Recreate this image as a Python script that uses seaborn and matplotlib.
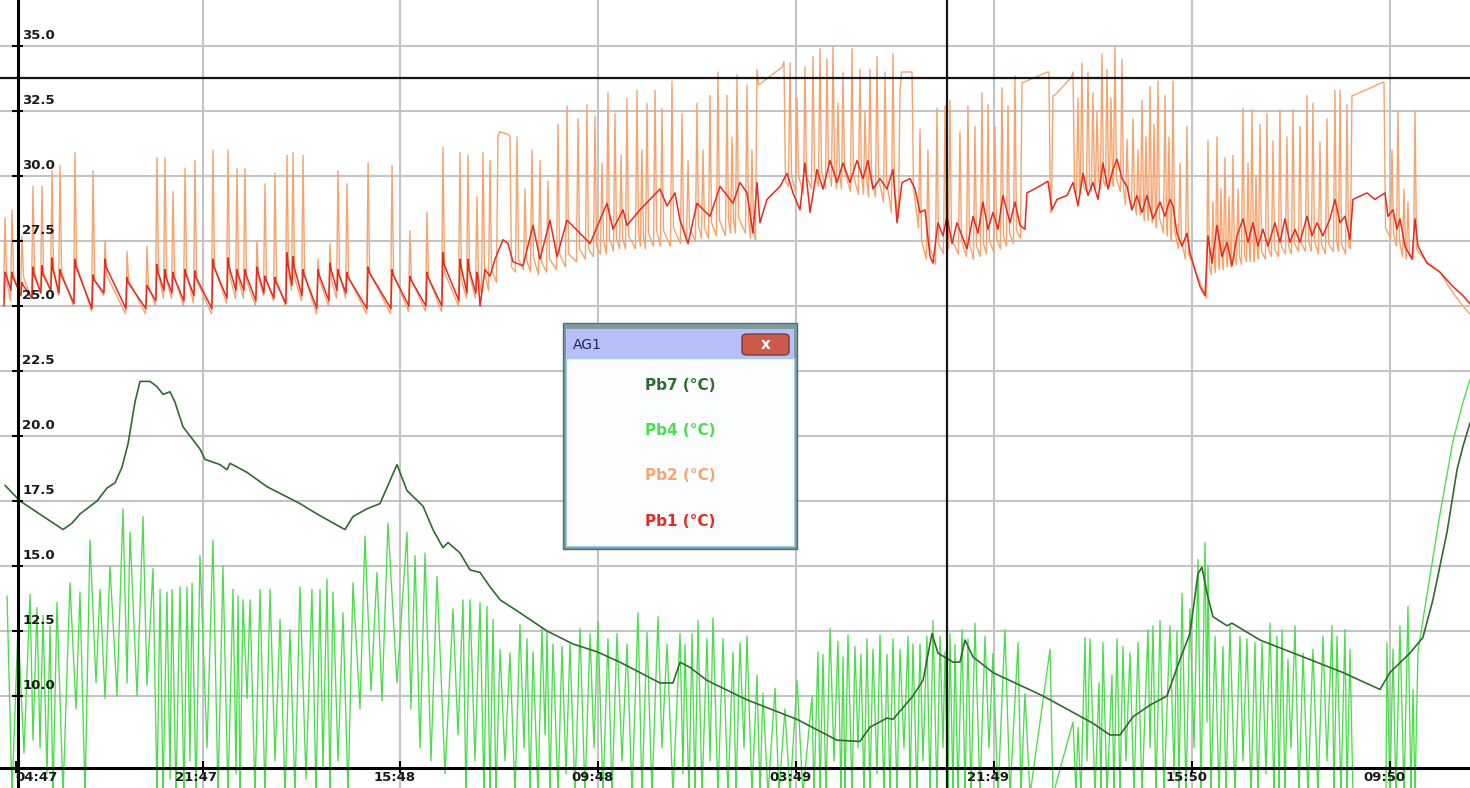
import matplotlib
matplotlib.use("Agg")
import matplotlib.pyplot as plt
import seaborn as sns
from matplotlib.patches import Rectangle, FancyBboxPatch

# ---------------- data (time in hours since 04:47, temperature in degC) ----------------
tick_hours = [0, 17, 35, 53, 71, 89, 107, 125]
tick_labels = ["04:47", "21:47", "15:48", "09:48", "03:49", "21:49", "15:50", "09:50"]
y_ticks = [10.0, 12.5, 15.0, 17.5, 20.0, 22.5, 25.0, 27.5, 30.0, 32.5, 35.0]

series_names = ["Pb7 (°C)", "Pb4 (°C)", "Pb2 (°C)", "Pb1 (°C)"]
series_colors = ["#2f6b2f", "#4cdc4c", "#f5a470", "#e52b20"]
legend_title = "AG1"

cursor_hour = 84.68
cursor_value = 33.77

# Pb7 (dark green) vertices
pb7_t = [-0.95, 0.41, 4.32, 5.14, 5.86, 7.41, 8.32, 9.05, 9.68, 10.23,
         10.86, 11.32, 12.23, 12.86, 13.41, 14.05, 14.5, 15.23, 16.77, 17.23,
         18.59, 19.23, 19.5, 21.05, 22.86, 25.86, 27.41, 29.95, 30.68, 31.95,
         33.14, 34.68, 35.59, 37.05, 37.95, 38.86, 39.32, 40.41, 41.32, 42.23,
         43.14, 44.05, 45.86, 48.32, 50.68, 52.86, 54.95, 58.59, 59.77, 60.41,
         61.32, 62.86, 66.5, 71.05, 74.68, 76.77, 77.68, 79.23, 79.77, 81.59,
         82.5, 83.32, 83.86, 85.23, 85.86, 86.32, 87.05, 88.86, 93.41, 97.95,
         99.5, 100.41, 101.59, 103.14, 104.68, 105.86, 106.77, 107.5, 107.86, 108.32,
         108.86, 110.14, 110.59, 113.14, 117.68, 120.68, 124.05, 124.95, 126.77, 127.95,
         128.86, 130.14, 131.05, 131.59, 132.23]
pb7_v = [18.1, 17.5, 16.4, 16.65, 17.0, 17.5, 18.0, 18.2, 18.8, 19.7,
         21.3, 22.1, 22.1, 21.9, 21.6, 21.7, 21.3, 20.35, 19.5, 19.1,
         18.9, 18.7, 18.95, 18.6, 18.05, 17.4, 17.0, 16.4, 16.9, 17.2,
         17.4, 18.9, 17.9, 17.3, 16.4, 15.7, 15.9, 15.5, 14.85, 14.75,
         14.2, 13.7, 13.2, 12.5, 12.0, 11.7, 11.3, 10.5, 10.5, 11.3,
         11.1, 10.6, 9.85, 9.1, 8.3, 8.25, 8.8, 9.15, 9.1, 10.0,
         10.6, 12.4, 11.65, 11.3, 11.3, 12.15, 11.5, 10.9, 10.0, 8.95,
         8.5, 8.5, 9.2, 9.65, 10.0, 11.4, 12.4, 14.7, 14.95, 13.95,
         13.05, 12.7, 12.8, 12.15, 11.4, 10.9, 10.25, 10.9, 11.65, 12.25,
         13.7, 16.3, 18.7, 19.6, 20.5]

# Pb4 (bright green) alternating peaks / troughs
pb4_t_a = [-0.77, -0.32, 0.23, 0.77, 1.32, 1.59, 1.95, 2.23, 2.5, 2.86,
           3.14, 3.41, 3.77, 4.32, 4.95, 5.5, 5.86, 6.32, 6.77, 7.32,
           7.68, 8.14, 8.59, 9.23, 9.77, 10.14, 10.41, 11.05, 11.59, 11.95,
           12.5, 12.86, 13.14, 13.41, 13.77, 14.05, 14.23, 14.59, 14.95, 15.32,
           15.59, 15.86, 16.05, 16.41, 16.77, 17.41, 17.95, 18.41, 18.86, 19.32,
           19.77, 20.05, 20.23, 20.41, 20.68, 21.05, 21.32, 21.77, 22.23, 22.68,
           23.14, 23.59, 24.05, 24.5, 24.95, 25.41, 25.86, 26.41, 26.95, 27.32,
           27.68, 27.95, 28.32, 28.59, 28.86, 29.32, 29.77, 30.23, 30.68, 31.32,
           31.77, 32.32, 32.86, 33.32, 33.86, 34.68, 35.59, 35.95, 36.32, 36.77,
           37.23, 37.77, 38.32, 39.05, 39.77, 40.23, 40.68, 40.95, 41.32, 41.77,
           42.23, 42.59, 42.86, 43.14]
pb4_v_a = [13.85, 6.2, 12.7, 7.8, 13.9, 8.3, 13.4, 8.0, 13.1, 7.0,
           12.7, 6.2, 13.6, 6.2, 14.35, 9.5, 14.0, 6.2, 16.0, 10.5,
           14.1, 9.9, 15.0, 10.0, 17.2, 10.5, 16.3, 10.0, 16.9, 10.4,
           14.9, 6.2, 14.1, 6.2, 14.0, 6.8, 14.1, 6.2, 14.2, 6.2,
           14.2, 7.5, 14.35, 6.2, 15.4, 8.0, 16.0, 6.2, 15.0, 6.2,
           14.1, 7.0, 13.85, 6.2, 13.7, 9.9, 13.7, 6.2, 14.1, 6.2,
           14.1, 7.5, 12.95, 6.2, 12.55, 6.2, 14.2, 6.8, 14.1, 6.2,
           14.1, 7.2, 14.5, 6.2, 14.0, 7.5, 13.2, 6.2, 14.35, 9.5,
           16.15, 10.2, 14.75, 9.8, 16.65, 10.5, 16.3, 9.5, 15.4, 8.0,
           15.5, 7.5, 14.6, 7.0, 13.35, 8.5, 13.7, 6.2, 13.7, 7.5,
           13.6, 6.2, 13.45, 6.2]
pb4_t_b = [43.41, 43.68, 44.05, 44.5, 44.95, 45.41, 45.86, 46.23, 46.5, 46.77,
           47.05, 47.5, 47.86, 48.14, 48.32, 48.59, 48.86, 49.32, 49.68, 50.05,
           50.41, 50.86, 51.32, 51.77, 52.23, 52.59, 52.95, 53.41, 53.86, 54.23,
           54.68, 55.14, 55.59, 56.05, 56.59, 56.95, 57.41, 57.86, 58.41, 58.77,
           59.23, 59.77, 60.41, 60.68, 60.86, 61.23, 61.5, 61.77, 62.05, 62.41,
           62.86, 63.14, 63.41, 63.86, 64.32, 64.77, 65.23, 65.5, 65.86, 66.23,
           66.5, 66.95, 67.41, 67.68, 67.95, 68.41, 69.05, 69.41, 69.95, 70.41,
           71.05, 71.59, 72.41, 72.59, 72.95, 73.14, 73.41, 73.68, 74.05, 74.41,
           74.77, 75.05, 75.23, 75.41, 75.68, 76.05, 76.32, 76.59, 76.86, 77.14,
           77.41, 77.68, 77.95, 78.32, 78.59, 78.95, 79.23, 79.5, 79.77, 80.14,
           80.41, 80.77, 81.14, 81.32, 81.59, 81.95, 82.23, 82.5, 82.86, 83.14,
           83.41, 83.77, 84.05, 84.32, 84.5, 84.77, 84.95, 85.23, 85.41, 85.68,
           86.05]
pb4_v_b = [12.95, 6.2, 11.8, 7.5, 11.65, 6.2, 12.75, 8.0, 12.2, 6.2,
           11.7, 6.2, 12.6, 8.5, 12.5, 6.2, 12.0, 6.2, 11.9, 7.0,
           12.0, 6.2, 12.6, 6.2, 12.4, 8.0, 12.85, 6.2, 12.2, 6.2,
           12.4, 7.5, 12.0, 6.2, 13.2, 6.2, 12.45, 6.2, 13.05, 8.0,
           12.0, 6.2, 12.4, 7.0, 12.0, 6.2, 12.4, 6.2, 12.9, 6.2,
           12.2, 7.5, 13.0, 6.2, 12.2, 6.2, 11.7, 6.2, 12.05, 8.0,
           12.3, 6.2, 10.8, 6.2, 10.1, 6.2, 10.3, 6.2, 9.5, 6.2,
           10.6, 6.2, 10.0, 6.2, 11.7, 6.2, 11.6, 6.2, 12.6, 7.5,
           12.1, 6.2, 11.5, 6.2, 12.35, 6.2, 11.9, 8.0, 11.6, 6.2,
           12.2, 6.2, 11.8, 7.0, 12.35, 6.2, 11.6, 6.2, 12.2, 6.2,
           11.8, 8.0, 12.3, 6.2, 12.0, 6.2, 12.0, 7.5, 12.3, 6.2,
           12.9, 6.2, 12.3, 8.0, 11.7, 6.2, 12.4, 6.2, 12.0, 6.2,
           12.55]
pb4_t_c = [86.32, 86.59, 86.86, 87.23, 87.68, 88.14, 88.5, 88.86, 89.32, 89.95,
           90.41, 91.14, 91.41, 91.77, 92.23, 94.05, 94.32, 96.14, 96.41, 96.59,
           96.86, 97.23, 97.41, 97.68, 98.14, 98.5, 98.68, 98.86, 99.23, 99.68,
           99.86, 100.14, 100.41, 100.68, 100.95, 101.32, 101.68, 102.05, 102.41, 102.95,
           103.14, 103.41, 103.68, 104.05, 104.41, 104.95, 105.32, 105.59, 105.77, 106.05,
           106.41, 106.77, 107.14, 107.5, 107.77, 108.14, 108.32, 108.41, 108.68, 109.05,
           109.41, 109.77, 110.05, 110.41, 110.86, 111.32, 111.59, 111.95, 112.32, 112.68,
           112.95, 113.32, 113.68, 114.05, 114.41, 114.68, 114.86, 115.14, 115.41, 115.68,
           115.95, 116.32, 116.68, 117.05, 117.5, 117.95, 118.41, 118.86, 119.23, 119.68,
           119.86, 120.14, 120.5, 120.86, 121.05, 121.32, 121.59, 124.59, 124.68, 124.95,
           125.23, 125.5, 125.86, 126.23, 126.59, 126.86, 127.05, 127.23, 127.5, 128.32,
           129.5, 130.68, 131.59, 132.41]
pb4_v_c = [6.2, 12.2, 6.2, 12.8, 6.2, 12.3, 8.0, 11.65, 6.2, 12.55,
           6.2, 12.05, 6.2, 10.1, 6.2, 11.8, 6.2, 9.0, 6.2, 8.8,
           6.2, 12.25, 7.5, 12.2, 6.2, 10.5, 6.2, 12.05, 6.2, 10.8,
           6.2, 12.2, 6.2, 11.9, 7.5, 11.65, 6.2, 12.05, 6.2, 12.55,
           8.0, 12.7, 6.2, 12.9, 6.2, 12.7, 7.0, 12.5, 6.2, 13.95,
           6.2, 13.35, 8.0, 15.25, 6.2, 15.9, 9.0, 15.0, 6.2, 12.3,
           6.2, 11.9, 6.2, 12.7, 6.2, 12.3, 7.5, 12.2, 6.2, 12.05,
           6.2, 12.05, 7.0, 12.8, 6.2, 12.3, 6.2, 12.55, 6.2, 11.4,
           8.0, 12.7, 6.2, 11.65, 6.2, 11.8, 6.2, 12.3, 7.5, 12.7,
           6.2, 12.3, 6.2, 12.55, 6.2, 11.8, 6.2, 6.2, 12.05, 6.2,
           11.8, 6.2, 12.7, 6.2, 13.45, 6.2, 10.25, 6.2, 11.7, 13.9,
           17.0, 19.8, 21.3, 22.4]

# Pb2 (orange) spikes: time of peak, value before rise, peak value, value after drop
pb2_t_a = [-0.95, -0.32, 0.59, 1.59, 2.41, 3.32, 4.05, 5.41, 7.05, 8.14,
           10.14, 11.95, 12.86, 13.59, 14.32, 15.41, 16.32, 17.95, 19.32, 20.14,
           20.86, 21.95, 22.68, 23.59, 24.68, 25.23, 26.14, 27.5, 28.59, 29.32,
           30.14, 32.05, 34.23, 35.86, 37.41, 38.86, 40.41, 41.14, 41.95, 42.5,
           43.14]
pb2_base_a = [25.3, 25.2, 25.4, 25.3, 25.5, 25.6, 25.4, 25.0, 24.8, 25.4,
              24.7, 24.7, 25.0, 25.3, 25.3, 25.0, 25.1, 24.7, 25.1, 25.3,
              25.3, 25.0, 25.4, 25.2, 25.0, 25.6, 25.2, 24.7, 25.0, 25.3,
              25.3, 24.7, 24.7, 24.8, 24.8, 24.8, 25.0, 25.3, 25.3, 25.5,
              25.6]
pb2_peak_a = [28.4, 28.7, 27.7, 29.6, 29.6, 30.2, 30.4, 30.9, 30.2, 27.5,
              27.1, 27.3, 30.7, 30.7, 29.4, 30.3, 30.6, 31.0, 31.0, 30.3,
              30.3, 27.5, 29.7, 30.1, 30.8, 30.9, 30.8, 26.8, 27.4, 30.2,
              29.7, 30.5, 30.4, 27.9, 28.6, 31.1, 30.9, 30.8, 29.2, 30.9,
              30.6]
pb2_after_a = [26.0, 26.2, 26.1, 26.3, 26.3, 26.4, 26.3, 26.6, 26.0, 26.2,
               26.0, 25.8, 26.2, 26.0, 26.1, 26.3, 26.0, 26.5, 26.2, 26.0,
               26.0, 26.1, 26.0, 26.0, 26.3, 26.1, 26.2, 26.0, 26.0, 26.2,
               26.1, 26.3, 26.2, 26.0, 26.1, 26.3, 26.0, 26.2, 26.1, 26.3,
               26.4]
pb2_t_b = [43.86, 44.95, 45.59, 46.32, 46.95, 47.68, 48.41, 49.32, 50.14, 51.14,
           51.95, 52.68, 53.32, 53.86, 54.5, 55.05, 55.59, 56.5, 56.95, 57.41,
           58.14, 58.77, 59.68, 60.59, 61.14, 61.95, 62.5, 63.14, 63.86, 64.68,
           65.14, 65.59, 66.5, 66.95, 67.41, 69.86, 70.41, 71.05, 71.77, 72.5,
           73.14, 73.77, 74.32, 74.77, 75.23, 76.05, 76.77, 77.23, 77.68, 78.32,
           79.05, 79.77, 80.41, 81.5, 82.23, 82.95, 83.77, 84.5, 84.95, 85.86]
pb2_base_b = [25.9, 31.6, 26.3, 26.4, 26.3, 26.2, 26.3, 26.4, 26.5, 26.7,
              26.8, 26.9, 27.0, 27.0, 27.1, 27.2, 27.2, 27.2, 27.3, 27.2,
              27.3, 27.3, 27.3, 27.4, 27.5, 27.5, 27.6, 27.6, 27.7, 27.7,
              27.8, 27.8, 27.8, 27.6, 27.5, 34.2, 29.6, 29.4, 29.3, 29.5,
              29.6, 29.5, 29.6, 29.5, 29.5, 29.4, 29.3, 29.3, 29.2, 29.2,
              29.0, 28.6, 28.4, 34.0, 28.0, 26.8, 26.6, 27.0, 27.2, 27.0]
pb2_peak_b = [31.5, 31.5, 31.5, 29.5, 31.0, 30.6, 29.8, 32.0, 32.7, 32.2,
              32.75, 32.3, 30.5, 33.2, 32.4, 30.8, 33.0, 33.3, 31.0, 32.8,
              33.3, 32.6, 33.65, 32.4, 30.6, 32.8, 31.0, 33.1, 34.0, 33.1,
              31.5, 33.9, 33.5, 31.0, 34.1, 34.4, 34.35, 33.0, 34.2, 34.6,
              34.9, 34.5, 35.0, 32.8, 34.0, 34.9, 34.1, 32.5, 34.1, 34.6,
              34.0, 34.7, 33.3, 34.0, 31.8, 31.0, 32.6, 32.7, 32.9, 31.7]
pb2_after_b = [31.7, 26.5, 26.8, 26.8, 26.9, 26.7, 26.8, 27.0, 27.0, 27.2,
               27.2, 27.3, 27.5, 27.6, 27.6, 27.6, 27.7, 27.8, 27.7, 27.8,
               27.9, 27.9, 28.0, 28.0, 28.0, 28.1, 28.0, 28.2, 28.3, 28.3,
               28.3, 28.4, 28.4, 28.0, 33.5, 29.8, 30.0, 30.0, 30.0, 30.2,
               30.2, 30.3, 30.3, 30.2, 30.2, 30.0, 30.0, 29.9, 30.0, 29.9,
               29.8, 29.5, 34.0, 29.5, 27.5, 27.3, 27.4, 27.6, 27.6, 27.5]
pb2_t_c = [86.59, 87.23, 87.86, 88.41, 89.05, 89.68, 90.23, 90.86, 91.5, 93.95,
           94.32, 96.14, 96.59, 96.95, 97.5, 97.95, 98.32, 98.77, 99.23, 99.59,
           99.95, 100.59, 101.05, 101.59, 102.05, 102.41, 102.77, 103.14, 103.5, 103.86,
           104.5, 104.86, 105.23, 105.86, 106.5, 108.41, 108.86, 109.23, 109.59, 109.95,
           110.32, 110.68, 111.14, 111.59, 112.05, 112.41, 112.77, 113.14, 113.77, 114.32,
           114.95, 115.59, 116.14, 116.77, 117.41, 117.95, 118.59, 119.23, 119.95, 120.41,
           121.05, 121.5, 124.41, 125.14, 125.68, 126.23, 126.59, 127.23]
pb2_base_c = [26.9, 26.8, 26.9, 27.0, 27.1, 27.2, 27.3, 27.4, 27.6, 34.0,
              28.6, 33.8, 29.3, 29.3, 29.4, 29.4, 29.5, 29.5, 29.6, 29.6,
              29.6, 29.4, 28.9, 28.7, 28.5, 28.5, 28.3, 28.3, 28.2, 28.0,
              27.8, 27.7, 27.5, 27.2, 26.8, 25.3, 26.2, 26.3, 26.4, 26.4,
              26.5, 26.5, 26.6, 26.6, 26.7, 26.7, 26.7, 26.8, 26.8, 26.9,
              26.9, 27.0, 27.0, 27.1, 27.1, 27.1, 27.0, 27.0, 27.1, 27.1,
              27.0, 27.2, 33.6, 27.6, 27.3, 26.9, 26.8, 26.8]
pb2_peak_c = [32.7, 31.9, 33.2, 32.75, 31.9, 33.4, 32.7, 33.85, 33.6, 34.0,
              33.1, 34.0, 33.0, 34.35, 34.0, 33.2, 32.5, 34.7, 34.1, 33.0,
              35.0, 34.5, 31.4, 32.2, 31.0, 32.9, 31.5, 33.45, 32.0, 33.65,
              33.1, 31.5, 33.65, 30.5, 31.9, 31.35, 29.0, 31.5, 29.5, 30.7,
              29.2, 30.8, 29.5, 32.6, 30.5, 32.55, 30.0, 32.0, 32.4, 31.35,
              32.55, 31.5, 32.55, 31.9, 33.1, 32.8, 31.3, 32.2, 33.3, 33.3,
              32.75, 33.1, 33.6, 31.0, 32.5, 29.5, 29.0, 32.5]
pb2_after_c = [27.4, 27.3, 27.4, 27.5, 27.6, 27.7, 27.8, 27.9, 33.6, 28.6,
               33.1, 29.4, 29.5, 29.6, 29.7, 29.7, 29.8, 29.8, 29.9, 29.9,
               29.9, 29.5, 29.2, 29.0, 28.8, 28.8, 28.6, 28.6, 28.5, 28.4,
               28.2, 28.0, 27.9, 27.5, 27.0, 26.5, 26.6, 26.7, 26.7, 26.8,
               26.8, 26.9, 26.9, 27.0, 27.0, 27.1, 27.0, 27.1, 27.2, 27.2,
               27.3, 27.3, 27.4, 27.4, 27.5, 27.5, 27.4, 27.4, 27.5, 27.4,
               27.3, 33.1, 28.0, 27.8, 27.5, 27.2, 27.0, 27.2]
pb2_tail_t = [127.68, 128.32, 129.5, 130.68, 131.59, 132.41]
pb2_tail_v = [27.0, 26.7, 26.3, 25.5, 25.0, 24.6]

# Pb1 (red): spikes in the first part, then a jagged trace
pb1_spike_t = pb2_t_a[:39]
pb1_base = [25.0, 25.6, 25.4, 25.3, 25.5, 25.6, 25.5, 25.1, 24.9, 25.5,
            24.9, 24.9, 25.2, 25.6, 25.5, 25.2, 25.4, 24.9, 25.3, 25.6,
            25.6, 25.2, 25.5, 25.3, 25.1, 25.8, 25.4, 24.9, 25.2, 25.6,
            25.5, 24.9, 24.9, 25.0, 25.0, 25.0, 25.2, 25.5, 25.5]
pb1_peak = [26.3, 26.3, 25.9, 26.5, 26.55, 26.85, 26.4, 26.8, 26.2, 26.8,
            26.1, 25.8, 26.6, 26.4, 26.3, 26.4, 26.35, 26.8, 26.85, 26.4,
            26.4, 26.5, 26.15, 26.1, 27.05, 26.9, 26.4, 26.4, 26.65, 26.4,
            26.3, 26.5, 26.4, 26.15, 26.3, 27.05, 26.8, 26.8, 26.3]
pb1_after = [26.2, 26.1, 25.8, 26.2, 26.2, 26.4, 26.2, 26.5, 26.0, 26.5,
             25.9, 25.7, 26.3, 26.1, 26.1, 26.2, 26.1, 26.5, 26.5, 26.2,
             26.2, 26.3, 26.0, 25.9, 26.6, 26.5, 26.2, 26.2, 26.4, 26.2,
             26.1, 26.3, 26.2, 26.0, 26.1, 26.6, 26.5, 26.4, 26.1]
pb1_t = [42.23, 42.68, 43.14, 43.59, 44.32, 44.77, 45.23, 46.14, 47.05, 47.68,
         48.59, 49.23, 50.14, 51.32, 52.23, 53.77, 54.32, 55.23, 55.59, 56.77,
         57.68, 58.59, 59.23, 59.95, 60.41, 61.14, 61.95, 63.14, 64.05, 65.23,
         65.86, 66.5, 67.05, 67.41, 67.68, 68.32, 69.5, 70.14, 70.68, 71.32,
         71.77, 72.23, 72.86, 73.41, 74.05, 74.68, 75.23, 75.86, 76.5, 77.05,
         77.5, 77.95, 78.59, 79.23, 79.77, 80.14, 80.59, 81.32, 81.77, 82.23,
         82.68, 83.14, 83.41, 83.86, 84.32, 84.68, 85.14, 85.59, 86.5, 87.05,
         87.5, 87.95, 88.41, 88.86, 89.32, 89.77, 90.41, 90.86, 91.32, 91.77,
         91.95, 92.86, 93.86, 94.23, 94.68, 95.59, 96.14, 96.59, 97.05, 97.5,
         97.95, 98.41, 98.86, 99.32, 99.77, 100.14, 100.59, 101.05, 101.5, 101.95,
         102.41, 102.86, 103.41, 104.05, 104.5, 104.95, 105.23, 105.59, 106.05, 106.5,
         106.77, 107.23, 107.68, 108.14, 108.41, 108.77, 109.23, 109.68, 110.14, 110.59,
         111.05, 111.59, 112.05, 112.5, 112.95, 113.41, 113.86, 114.5, 114.95, 115.41,
         115.86, 116.32, 116.77, 117.41, 117.86, 118.32, 118.86, 119.5, 119.95, 120.41,
         120.86, 121.32, 121.59, 122.86, 123.59, 124.5, 124.77, 125.23, 125.59, 125.86,
         126.32, 126.95, 127.23, 127.5, 128.32, 129.5, 130.68, 131.59, 132.41]
pb1_v = [25.0, 26.4, 26.15, 26.8, 27.55, 27.4, 26.7, 26.55, 28.1, 26.8,
         28.3, 26.9, 28.3, 27.8, 27.4, 28.95, 27.95, 28.7, 28.1, 28.7,
         29.1, 29.5, 28.85, 29.35, 28.3, 27.4, 28.95, 28.45, 29.6, 28.95,
         29.75, 29.35, 27.8, 29.75, 28.2, 29.1, 29.6, 30.1, 29.35, 28.7,
         30.5, 28.6, 30.25, 29.5, 30.6, 29.75, 30.5, 29.75, 30.6, 29.9,
         30.6, 29.5, 29.9, 29.5, 30.25, 28.2, 29.75, 29.9, 29.5, 28.6,
         28.7, 26.9, 26.65, 28.2, 27.7, 28.45, 27.4, 28.2, 27.2, 28.45,
         27.8, 29.0, 27.95, 28.6, 27.95, 29.25, 28.2, 29.0, 28.1, 27.95,
         29.35, 29.55, 29.8, 28.7, 29.1, 29.25, 29.75, 28.85, 30.1, 29.25,
         29.75, 29.1, 30.5, 29.5, 30.25, 30.65, 29.9, 29.6, 28.7, 29.25,
         28.6, 29.25, 28.35, 29.0, 28.45, 29.1, 28.85, 27.8, 27.3, 27.8,
         27.05, 26.4, 25.75, 25.4, 27.7, 26.65, 28.1, 26.9, 27.45, 26.55,
         27.7, 28.35, 27.45, 28.2, 27.3, 27.95, 27.3, 28.2, 27.45, 28.35,
         27.45, 27.95, 27.45, 28.45, 27.7, 28.2, 27.7, 28.35, 29.1, 28.2,
         28.45, 27.55, 29.1, 29.35, 29.1, 29.35, 28.45, 28.7, 27.95, 28.35,
         27.3, 26.8, 28.35, 27.3, 26.65, 26.3, 25.75, 25.4, 25.0]

# ---------------- layout (pixel geometry of the reference) ----------------
W, H = 1470, 788
X_MIN, X_MAX = -1.41, 132.23
Y_MIN, Y_MAX = 6.46, 36.77
Y_AXIS_AT = 0.23      # hours, where the vertical axis line sits
X_AXIS_AT = 7.23      # degC, where the horizontal axis line sits


def expand_spikes(t, b, p, a, w):
    xs, ys = [], []
    for ti, bi, pi, ai in zip(t, b, p, a):
        xs += [ti - w, ti, ti + w]
        ys += [bi, pi, ai]
    return xs, ys


sns.set_theme(style="white")
plt.rcParams["font.family"] = ["DejaVu Sans"]

fig = plt.figure(figsize=(W / 100, H / 100), dpi=100)
fig.patch.set_facecolor("white")
ax = fig.add_axes([0, 0, 1, 1])
ax.set_facecolor("white")
ax.set_xlim(X_MIN, X_MAX)
ax.set_ylim(Y_MIN, Y_MAX)
ax.axis("off")

# grid
for yv in y_ticks:
    ax.axhline(yv, color="#c4c4c4", lw=1.5, zorder=1)
for th in tick_hours[1:]:
    ax.axvline(th, color="#c4c4c4", lw=1.5, zorder=1)

# series
x4 = pb4_t_a + pb4_t_b + pb4_t_c
y4 = pb4_v_a + pb4_v_b + pb4_v_c
sns.lineplot(x=x4, y=y4, sort=False, estimator=None, color=series_colors[1], lw=0.95, ax=ax, zorder=2)
sns.lineplot(x=pb7_t, y=pb7_v, sort=False, estimator=None, color=series_colors[0], lw=1.2, ax=ax, zorder=3)

xa, ya = expand_spikes(pb2_t_a, pb2_base_a, pb2_peak_a, pb2_after_a, 0.14)
xb, yb = expand_spikes(pb2_t_b, pb2_base_b, pb2_peak_b, pb2_after_b, 0.14)
xc, yc = expand_spikes(pb2_t_c, pb2_base_c, pb2_peak_c, pb2_after_c, 0.14)
x2 = xa + xb + xc + pb2_tail_t
y2 = ya + yb + yc + pb2_tail_v
sns.lineplot(x=x2, y=y2, sort=False, estimator=None, color=series_colors[2], lw=1.0, ax=ax, zorder=3.5)

xr, yr = expand_spikes(pb1_spike_t, pb1_base, pb1_peak, pb1_after, 0.1)
x1 = xr + pb1_t
y1 = yr + pb1_v
sns.lineplot(x=x1, y=y1, sort=False, estimator=None, color=series_colors[3], lw=1.1, ax=ax, zorder=4)

# cursor cross-hair
ax.axhline(cursor_value, color="#151515", lw=1.6, zorder=5)
ax.axvline(cursor_hour, color="#151515", lw=1.6, zorder=5)

# axis lines and tick marks
ax.axvline(Y_AXIS_AT, color="black", lw=2.2, zorder=6)
ax.axhline(X_AXIS_AT, color="black", lw=2.2, zorder=6)
ax.hlines(y_ticks, X_MIN + 1.1, Y_AXIS_AT + 0.45, color="black", lw=1.5, zorder=6)
ax.vlines(tick_hours, X_AXIS_AT - 0.2, X_AXIS_AT + 0.25, color="black", lw=1.5, zorder=6)

# tick labels
for yv in y_ticks:
    ax.annotate(f"{yv:.1f}", xy=(Y_AXIS_AT, yv), xytext=(3, 5), textcoords="offset points",
                ha="left", va="baseline", fontsize=9.5, fontweight="bold", color="#1a1a1a", zorder=7)
for i, (th, lab) in enumerate(zip(tick_hours, tick_labels)):
    if i == 0:
        ax.annotate(lab, xy=(th, X_AXIS_AT), xytext=(0, -6.5), textcoords="offset points",
                    ha="left", va="center", fontsize=9.5, fontweight="bold", color="#1a1a1a", zorder=7)
    else:
        ax.annotate(lab, xy=(th, X_AXIS_AT), xytext=(-4.5, -6.5), textcoords="offset points",
                    ha="center", va="center", fontsize=9.5, fontweight="bold", color="#1a1a1a", zorder=7)


# ---------------- legend window ----------------
def fx(x):
    return x / W


def fy(y):
    return 1 - y / H


def rect_px(x0, y0, x1, y1, **kw):
    r = Rectangle((fx(x0), fy(y1)), (x1 - x0) / W, (y1 - y0) / H, transform=fig.transFigure, **kw)
    fig.add_artist(r)
    return r


rect_px(563, 323, 797, 549, facecolor="#7d9c9e", edgecolor="#4f6f73", lw=1.0, zorder=10)
rect_px(566, 329, 794, 358, facecolor="#b8bef8", edgecolor="none", zorder=11)
rect_px(566, 358, 794, 546, facecolor="#fbfdff", edgecolor="#a8cfe8", lw=1.0, zorder=11)
btn = FancyBboxPatch((fx(742), fy(355)), (789 - 742) / W, (355 - 334) / H,
                     boxstyle="round,pad=0,rounding_size=0.004", transform=fig.transFigure,
                     facecolor="#cc5b4c", edgecolor="#7e3a32", lw=1.0, zorder=12)
fig.add_artist(btn)
fig.text(fx(765.5), fy(344.5), "x", ha="center", va="center", fontsize=11, fontweight="bold",
         color="white", zorder=13)
fig.text(fx(573), fy(345), legend_title, ha="left", va="center", fontsize=10, color="#1c2857", zorder=13)
for name, col, yy in zip(series_names, series_colors, [386, 431, 476, 521]):
    fig.text(fx(680), fy(yy), name, ha="center", va="center", fontsize=11, fontweight="bold",
             color=col, zorder=13)

fig.savefig("out.png", dpi=100, facecolor="white")
